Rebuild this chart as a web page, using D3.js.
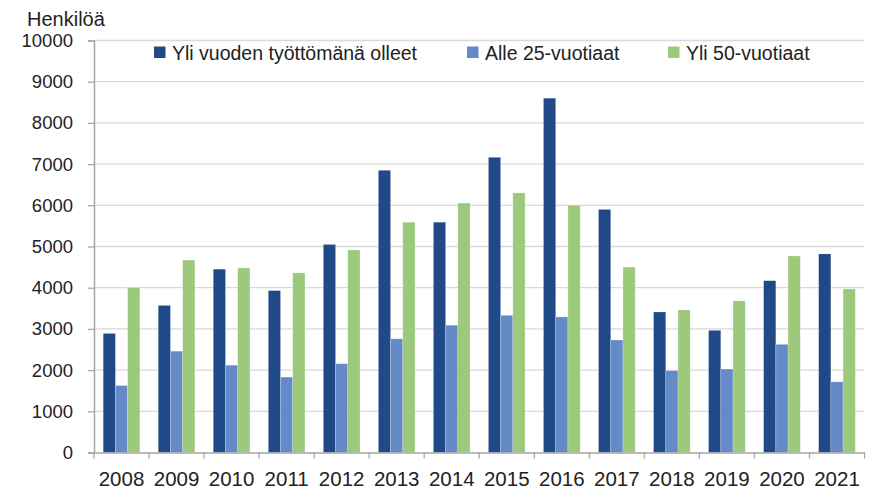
<!DOCTYPE html>
<meta charset="utf-8">
<style>
  body { margin: 0; background: #fff; }
  text { font-family: "Liberation Sans", Arial, sans-serif; fill: #222; }
</style>
<body>
<svg width="873" height="491"></svg>
<script src="https://cdn.jsdelivr.net/npm/d3@7/dist/d3.min.js"></script>
<script>

// data
var years = ["2008","2009","2010","2011","2012","2013","2014","2015","2016","2017","2018","2019","2020","2021"];
var seriesNames = ["Yli vuoden työttömänä olleet", "Alle 25-vuotiaat", "Yli 50-vuotiaat"];
var longTerm = [2890, 3570, 4450, 3930, 5050, 6850, 5590, 7165, 8600, 5900, 3410, 2965, 4170, 4820];
var under25  = [1625, 2460, 2120, 1830, 2155, 2760, 3090, 3330, 3290, 2730, 1985, 2025, 2625, 1715];
var over50   = [4000, 4670, 4480, 4360, 4915, 5590, 6055, 6300, 6000, 4500, 3460, 3680, 4770, 3970];
var yTicks   = [0, 1000, 2000, 3000, 4000, 5000, 6000, 7000, 8000, 9000, 10000];
var colors   = ["#1f4a87", "#648bc8", "#9cc97c"];

var svg = d3.select("svg"),
    margin = {top: 40.5, left: 94, right: 8.5, bottom: 38.5},
    width = +svg.attr("width") - margin.left - margin.right,
    height = +svg.attr("height") - margin.top - margin.bottom;

var g = svg.append("g")
    .attr("transform", "translate(" + margin.left + "," + margin.top + ")");

var x = d3.scaleBand().domain(years).range([0, width]);
var x1 = d3.scaleBand().domain([0, 1, 2])
    .range([x.bandwidth() * 0.167, x.bandwidth() * 0.833]);
var y = d3.scaleLinear().domain([0, 10000]).range([height, 0]);

// gridlines
g.append("g")
  .selectAll("line")
  .data(yTicks.slice(1))
  .enter().append("line")
    .attr("x1", 0).attr("x2", width)
    .attr("y1", function(d) { return y(d); })
    .attr("y2", function(d) { return y(d); })
    .attr("stroke", "#d9d9d9")
    .attr("stroke-width", 1.3);

// bars
var table = years.map(function(yr, i) {
  return {year: yr, vals: [longTerm[i], under25[i], over50[i]]};
});

var groups = g.selectAll(".grp")
  .data(table)
  .enter().append("g")
    .attr("class", "grp")
    .attr("transform", function(d) { return "translate(" + x(d.year) + ",0)"; });

groups.selectAll("rect")
  .data(function(d) { return d.vals.map(function(v, k) { return {k: k, v: v}; }); })
  .enter().append("rect")
    .attr("x", function(d) { return x1(d.k); })
    .attr("width", x1.bandwidth())
    .attr("y", function(d) { return y(d.v); })
    .attr("height", function(d) { return height - y(d.v); })
    .attr("fill", function(d) { return colors[d.k]; })
    .attr("stroke", "rgba(255,255,255,0.35)")
    .attr("stroke-width", 0.6);

// y axis
var yAxis = g.append("g")
    .call(d3.axisLeft(y).tickValues(yTicks).tickSize(6).tickPadding(15).tickFormat(d3.format("d")));
yAxis.select(".domain").attr("stroke", "#a6a6a6").attr("stroke-width", 1.5);
yAxis.selectAll(".tick line").attr("stroke", "#a6a6a6").attr("stroke-width", 1.3);
yAxis.selectAll("text").style("font-size", "18.5px").attr("fill", "#222");

// x axis
var xAxis = g.append("g")
    .attr("transform", "translate(0," + height + ")")
    .call(d3.axisBottom(x).tickSize(0).tickPadding(19));
xAxis.select(".domain").attr("stroke", "#a6a6a6").attr("stroke-width", 1.5);
xAxis.selectAll("text").style("font-size", "20.5px").attr("fill", "#222");

// category boundary ticks
xAxis.append("g")
  .selectAll("line")
  .data(years.concat(["end"]))
  .enter().append("line")
    .attr("x1", function(d, i) { return i * x.step(); })
    .attr("x2", function(d, i) { return i * x.step(); })
    .attr("y1", 0).attr("y2", 6)
    .attr("stroke", "#a6a6a6")
    .attr("stroke-width", 1.3);

// unit label
svg.append("text")
    .attr("x", 27).attr("y", 26)
    .style("font-size", "20px")
    .text("Henkilöä");

// legend
var legendX = [154, 467, 668];
var legend = svg.selectAll(".legend")
  .data(seriesNames)
  .enter().append("g")
    .attr("class", "legend")
    .attr("transform", function(d, i) { return "translate(" + legendX[i] + ",46.5)"; });

legend.append("rect")
    .attr("width", 11.5).attr("height", 11.5)
    .attr("fill", function(d, i) { return colors[i]; });

legend.append("text")
    .attr("x", 18).attr("y", 13.5)
    .style("font-size", "19.5px")
    .text(function(d) { return d; });

</script>
</body>
